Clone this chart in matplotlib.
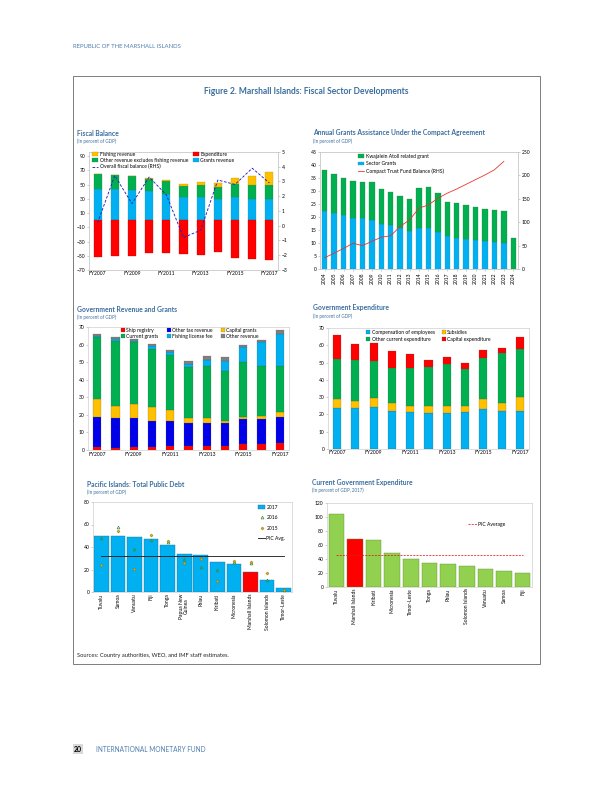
import numpy as np
import matplotlib
matplotlib.use('Agg')
import matplotlib.pyplot as plt
from matplotlib.patches import Rectangle, Patch
from matplotlib.lines import Line2D

plt.rcParams['font.family'] = ['Lato', 'DejaVu Sans']

# ---- data ----
fy = ['FY2007', 'FY2008', 'FY2009', 'FY2010', 'FY2011', 'FY2012',
      'FY2013', 'FY2014', 'FY2015', 'FY2016', 'FY2017']

# Fiscal balance
grants_rev = [44.5, 43.6, 42.2, 40.8, 36.6, 32.3, 32.3, 29.5, 32.3, 29.5, 29.5]
other_rev = [21.1, 19.7, 20.1, 17.8, 18.7, 16.5, 17.4, 17.4, 19.3, 20.2, 20.2]
fishing_rev = [0.0, 0.7, 0.5, 1.4, 1.0, 2.3, 4.2, 6.1, 7.9, 12.6, 18.3]
expenditure = [-51.6, -50.6, -49.7, -45.5, -46.0, -46.9, -48.8, -45.0, -52.5, -54.4, -56.3]
fiscal_balance = [0.2, 3.4, 1.5, 3.3, 2.1, -0.8, -0.3, 3.1, 2.8, 3.9, 2.9]

# Compact grants
compact_years = [str(y) for y in range(2004, 2025)]
sector_grants = [22.5, 21.5, 20.7, 19.5, 19.5, 19.0, 17.5, 16.8, 15.6, 14.8, 15.6,
                 15.6, 14.1, 12.6, 12.1, 11.4, 11.1, 10.7, 10.3, 9.9, 0.0]
kwajalein = [15.7, 15.0, 14.4, 14.2, 13.9, 14.4, 13.3, 12.8, 12.3, 12.2, 15.6,
             16.1, 15.3, 13.1, 13.2, 13.2, 12.8, 12.4, 12.3, 12.3, 12.1]
trust_fund = [24, 34, 44, 55, 50, 59, 68, 71, 91, 105, 130, 137, 151, 162,
              171, 181, 191, 201, 212, 230, np.nan]

# Revenue and grants
ship_registry = [1.9, 1.3, 1.9, 1.5, 2.1, 2.1, 2.1, 2.5, 3.4, 3.4, 4.0]
other_tax = [16.7, 16.8, 16.2, 15.2, 14.3, 13.5, 13.5, 13.1, 14.1, 14.1, 14.5]
capital_grants = [10.7, 7.2, 8.3, 8.0, 6.4, 2.8, 2.5, 1.1, 1.1, 2.1, 3.4]
current_grants = [34.8, 36.9, 34.9, 32.7, 31.2, 28.8, 29.5, 28.0, 31.4, 28.0, 25.7]
fishing_fee = [0.9, 1.0, 0.7, 1.6, 1.7, 1.8, 3.8, 6.1, 8.4, 13.8, 18.4]
other_revenue = [1.2, 1.1, 1.3, 1.5, 1.2, 1.4, 1.9, 1.9, 1.5, 1.4, 2.5]

# Expenditure
compensation = [23.5, 23.5, 24.1, 22.2, 21.6, 20.6, 21.0, 21.6, 22.9, 22.0, 22.2]
subsidies = [5.2, 4.5, 5.6, 4.2, 3.5, 4.5, 4.1, 3.5, 5.8, 4.8, 7.7]
other_current = [23.3, 23.5, 21.2, 20.3, 21.9, 22.5, 24.3, 21.4, 24.1, 28.5, 27.9]
capital_exp = [13.8, 9.0, 10.6, 9.8, 7.8, 3.9, 3.8, 3.2, 4.3, 3.1, 7.2]

# Public debt
debt_countries = ['Tuvalu', 'Samoa', 'Vanuatu', 'Fiji', 'Tonga', 'Papua New\nGuinea',
                  'Palau', 'Kiribati', 'Micronesia', 'Marshall Islands',
                  'Solomon Islands', 'Timor-Leste']
debt_2017 = [49.9, 49.9, 49.0, 46.9, 41.5, 33.4, 32.5, 26.6, 24.6, 17.6, 10.5, 3.2]
debt_2016 = [48.3, 58.2, 38.2, 46.3, 44.5, 29.3, 22.0, 20.0, 26.3, 25.4, 10.5, 1.7]
debt_2015 = [23.9, 54.3, 20.6, 50.7, 45.1, 25.4, 29.1, 9.6, 27.8, 26.9, 16.5, 1.5]
debt_pic_avg = 31.9

# Current expenditure
exp_countries = ['Tuvalu', 'Marshall Islands', 'Kiribati', 'Micronesia', 'Timor-Leste',
                 'Tonga', 'Palau', 'Solomon Islands', 'Vanuatu', 'Samoa', 'Fiji']
cur_exp = [104.2, 68.2, 66.7, 48.0, 39.4, 33.6, 32.2, 30.7, 26.4, 23.5, 20.6]
exp_pic_avg = 45.1

# ---- styling ----
W, H = 612, 792
TITLE_BLUE = '#3A6E9F'
BLUE = '#00B0F0'
GREEN = '#00B050'
YELLOW = '#FFC000'
RED = '#FF0000'
DBLUE = '#0000E8'
GREY = '#808080'
LGREEN = '#92D050'
FS = 5.0

fig = plt.figure(figsize=(W / 72, H / 72), dpi=72)


def px_axes(x0, y0, x1, y1):
    return fig.add_axes([x0 / W, 1 - y1 / H, (x1 - x0) / W, (y1 - y0) / H])


def fpos(x, y):
    return (x / W, 1 - y / H)


def panel_title(x, y, title, sub):
    fig.text(*fpos(x, y), title, fontsize=6.7, fontweight='bold', color=TITLE_BLUE, va='center')
    fig.text(*fpos(x, y + 8.5), sub, fontsize=4.5, color=TITLE_BLUE, va='center')


def style(ax):
    for s in ax.spines.values():
        s.set_color('#C8C8C8')
        s.set_linewidth(0.6)
    ax.tick_params(labelsize=FS, length=2, width=0.5, color='#A0A0A0', pad=1.5)


def legend(ax, handles, labels, x, y, **kw):
    opts = dict(loc='upper left', bbox_to_anchor=fpos(x, y), bbox_transform=fig.transFigure,
                frameon=False, fontsize=FS, handlelength=1.2, handleheight=0.8,
                handletextpad=0.3, borderpad=0, borderaxespad=0, labelspacing=0.2,
                columnspacing=1.0)
    opts.update(kw)
    return ax.legend(handles, labels, **opts)


# header / frame / footer
fig.text(*fpos(73, 46), 'REPUBLIC OF THE MARSHALL ISLANDS', fontsize=6, color='#4F7FAF', va='center')
fig.patches.append(Rectangle(fpos(73, 664), (540 - 73) / W, (664 - 76) / H, fill=False,
                             ec='#808080', lw=1.0, transform=fig.transFigure))
fig.text(*fpos(306, 91), 'Figure 2. Marshall Islands: Fiscal Sector Developments', fontsize=8.5,
         fontweight='bold', color=TITLE_BLUE, ha='center', va='center')
fig.text(*fpos(77, 655), 'Sources: Country authorities, WEO, and IMF staff estimates.',
         fontsize=5.7, color='#222222', va='center')
fig.text(*fpos(74, 749), '20', fontsize=7, fontweight='bold', va='center',
         bbox=dict(facecolor='#D9D9D9', edgecolor='none', pad=1.5))
fig.text(*fpos(96, 749), 'INTERNATIONAL MONETARY FUND', fontsize=6.5, color='#4F7FAF', va='center')

# ---- Panel 1: Fiscal Balance ----
panel_title(77, 133, 'Fiscal Balance', '(In percent of GDP)')
ax1 = px_axes(89, 152, 278, 270)
x = np.arange(len(fy))
bw = 0.47
ax1.bar(x, grants_rev, bw, color=BLUE, ec='#2F8FBF', lw=0.3)
ax1.bar(x, other_rev, bw, bottom=grants_rev, color=GREEN, ec='#2F7F3F', lw=0.3)
ax1.bar(x, fishing_rev, bw, bottom=np.add(grants_rev, other_rev), color=YELLOW, ec='#BF8F00', lw=0.3)
ax1.bar(x, expenditure, bw, color=RED, ec='#BF0000', lw=0.3)
ax1.set_xlim(-0.5, len(fy) - 0.5)
ax1.set_ylim(-70, 96)
ax1.set_yticks(range(-70, 91, 20))
ax1.set_xticks(x[::2])
ax1.set_xticklabels(fy[::2])
style(ax1)
ax1.tick_params(axis='x', length=0)
ax1b = ax1.twinx()
ax1b.plot(x, fiscal_balance, color='#2020C0', lw=0.9, dashes=(3, 1.8))
ax1b.set_ylim(-3, 5)
ax1b.set_yticks(range(-3, 6))
style(ax1b)
h1 = [Patch(fc=YELLOW, ec='#BF8F00', lw=0.3), Patch(fc=GREEN, ec='#2F7F3F', lw=0.3),
      Line2D([], [], color='#2020C0', lw=0.9, dashes=(3, 1.8)),
      Patch(fc=RED, ec='#BF0000', lw=0.3), Patch(fc=BLUE, ec='#2F8FBF', lw=0.3)]
l1 = ['Fishing revenue', 'Other revenue excludes fishing revenue', 'Overall fiscal balance (RHS)',
      'Expenditure', 'Grants revenue']
legend(ax1b, h1, l1, 92, 152, ncol=2, columnspacing=1.0)

# ---- Panel 2: Compact grants ----
panel_title(313, 133, 'Annual Grants Assistance Under the Compact Agreement', '(In percent of GDP)')
ax2 = px_axes(320, 152, 518, 269)
xc = np.arange(len(compact_years))
ax2.bar(xc, sector_grants, 0.57, color=BLUE, ec='#2F8FBF', lw=0.3)
ax2.bar(xc, kwajalein, 0.57, bottom=sector_grants, color=GREEN, ec='#2F7F3F', lw=0.3)
ax2.set_xlim(-0.5, len(compact_years) - 0.5)
ax2.set_ylim(0, 45)
ax2.set_yticks(range(0, 46, 5))
ax2.set_xticks(xc)
ax2.set_xticklabels(compact_years, rotation=90, fontsize=4.4)
style(ax2)
ax2b = ax2.twinx()
ax2b.plot(xc, trust_fund, color='#E8302A', lw=0.8)
ax2b.set_ylim(0, 250)
ax2b.set_yticks(range(0, 251, 50))
style(ax2b)
h2 = [Patch(fc=GREEN, ec='#2F7F3F', lw=0.3), Patch(fc=BLUE, ec='#2F8FBF', lw=0.3),
      Line2D([], [], color='#E8302A', lw=0.8)]
legend(ax2b, h2, ['Kwajalein Atoll related grant', 'Sector Grants', 'Compact Trust Fund Balance (RHS)'],
       358, 154, labelspacing=0.45)

# ---- Panel 3: Revenue and grants ----
panel_title(77, 309, 'Government Revenue and Grants', '(In percent of GDP)')
ax3 = px_axes(88, 327, 289, 450)
bw3 = 0.45
layers3 = [(ship_registry, RED), (other_tax, DBLUE), (capital_grants, YELLOW),
           (current_grants, GREEN), (fishing_fee, BLUE), (other_revenue, GREY)]
base = np.zeros(len(fy))
for vals, col in layers3:
    ax3.bar(x, vals, bw3, bottom=base, color=col, ec='#505050', lw=0.2)
    base = base + np.array(vals)
ax3.set_xlim(-0.5, len(fy) - 0.5)
ax3.set_ylim(0, 70)
ax3.set_yticks(range(0, 71, 10))
ax3.set_xticks(x[::2])
ax3.set_xticklabels(fy[::2])
style(ax3)
ax3.tick_params(axis='x', length=0)
h3 = [Patch(fc=c, ec='#505050', lw=0.2) for c in [RED, GREEN, DBLUE, BLUE, YELLOW, GREY]]
l3 = ['Ship registry', 'Current grants', 'Other tax revenue', 'Fishing license fee',
      'Capital grants', 'Other revenue']
legend(ax3, h3, l3, 121, 328, ncol=3, handlelength=0.8, handleheight=0.8, columnspacing=1.6,
       labelspacing=0.15)

# ---- Panel 4: Expenditure ----
panel_title(313, 308, 'Government Expenditure', '(In percent of GDP)')
ax4 = px_axes(328, 328, 529, 449)
bw4 = 0.44
layers4 = [(compensation, BLUE), (subsidies, YELLOW), (other_current, GREEN), (capital_exp, RED)]
base = np.zeros(len(fy))
for vals, col in layers4:
    ax4.bar(x, vals, bw4, bottom=base, color=col, ec='#505050', lw=0.2)
    base = base + np.array(vals)
ax4.set_xlim(-0.5, len(fy) - 0.5)
ax4.set_ylim(0, 70)
ax4.set_yticks(range(0, 71, 10))
ax4.set_xticks(x[::2])
ax4.set_xticklabels(fy[::2])
style(ax4)
ax4.tick_params(axis='x', length=0)
h4 = [Patch(fc=c, ec='#505050', lw=0.2) for c in [BLUE, GREEN, YELLOW, RED]]
l4 = ['Compensation of employees', 'Other current expenditure', 'Subsidies', 'Capital expenditure']
legend(ax4, h4, l4, 366, 330, ncol=2, handlelength=0.8, columnspacing=1.4, labelspacing=0.3)

# ---- Panel 5: Public debt ----
panel_title(87, 484, 'Pacific Islands: Total Public Debt', '(In percent of GDP)')
ax5 = px_axes(93, 502, 292, 592)
xd = np.arange(len(debt_countries))
debt_cols = [RED if c == 'Marshall Islands' else BLUE for c in debt_countries]
ax5.bar(xd, debt_2017, 0.88, color=debt_cols, ec='#1F6F9F', lw=0.4)
ax5.plot(xd, debt_2016, ls='none', marker='^', ms=2.8, mfc='none', mec='#3C8C3C', mew=0.7)
ax5.plot(xd, debt_2015, ls='none', marker='D', ms=2.2, mfc='#E8B400', mec='#6F6A20', mew=0.4)
ax5.plot([xd[0], xd[-1]], [debt_pic_avg, debt_pic_avg], color='#222222', lw=0.9)
ax5.set_xlim(-0.5, len(debt_countries) - 0.5)
ax5.set_ylim(0, 80)
ax5.set_yticks(range(0, 81, 20))
ax5.set_xticks(xd)
ax5.set_xticklabels(debt_countries, rotation=90, fontsize=4.8, linespacing=1.0)
style(ax5)
ax5.tick_params(axis='x', length=0)
h5 = [Patch(fc=BLUE, ec='#1F6F9F', lw=0.4),
      Line2D([], [], ls='none', marker='^', ms=2.8, mfc='none', mec='#3C8C3C', mew=0.7),
      Line2D([], [], ls='none', marker='D', ms=2.2, mfc='#E8B400', mec='#6F6A20', mew=0.4),
      Line2D([], [], color='#222222', lw=0.9)]
legend(ax5, h5, ['2017', '2016', '2015', 'PIC Avg.'], 258, 505, labelspacing=1.05,
       handlelength=1.4)

# ---- Panel 6: Current expenditure ----
panel_title(312, 482, 'Current Government Expenditure', '(In percent of GDP, 2017)')
ax6 = px_axes(327, 503, 532, 587)
xe = np.arange(len(exp_countries))
exp_cols = [RED if c == 'Marshall Islands' else LGREEN for c in exp_countries]
ax6.bar(xe, cur_exp, 0.83, color=exp_cols, ec='#5E8C2E', lw=0.4)
ax6.plot([xe[0], xe[-1]], [exp_pic_avg, exp_pic_avg], color='#E02020', lw=0.8, dashes=(2.5, 1.5))
ax6.set_xlim(-0.5, len(exp_countries) - 0.5)
ax6.set_ylim(0, 120)
ax6.set_yticks(range(0, 121, 20))
ax6.set_xticks(xe)
ax6.set_xticklabels(exp_countries, rotation=90, fontsize=4.8)
style(ax6)
ax6.tick_params(axis='x', length=0)
legend(ax6, [Line2D([], [], color='#E02020', lw=0.8, dashes=(2.5, 1.5))], ['PIC Average'],
       468, 522, handlelength=1.8)

fig.savefig('out.png', dpi=72)
